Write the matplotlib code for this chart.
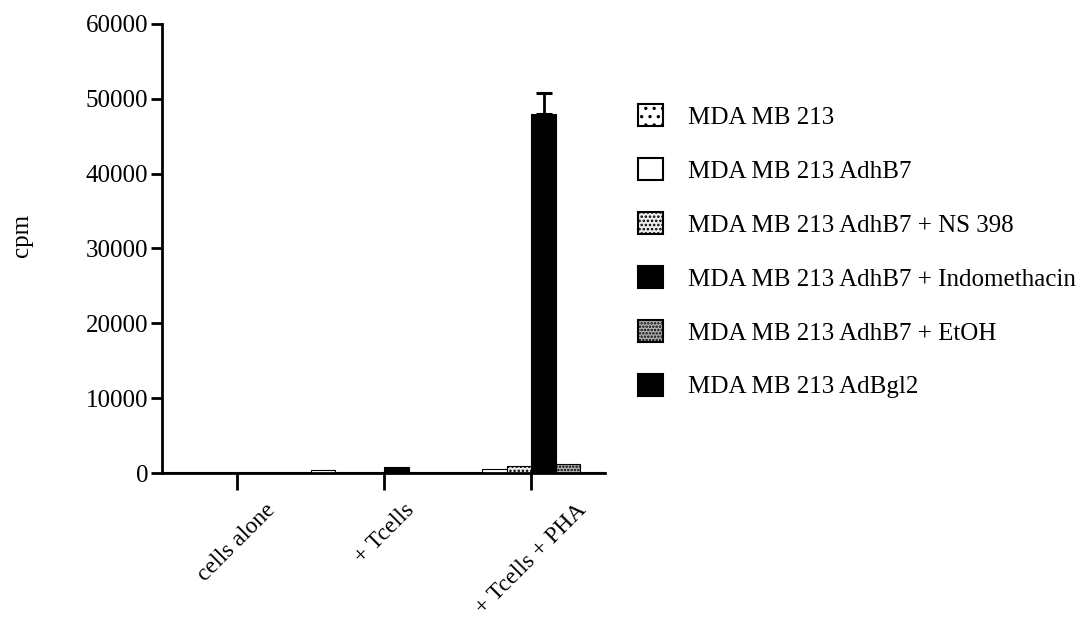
import matplotlib
matplotlib.use("Agg")
import matplotlib.pyplot as plt
from matplotlib.patches import Patch
import numpy as np

plt.rcParams['font.family'] = ['Liberation Serif', 'DejaVu Serif']
plt.rcParams['hatch.linewidth'] = 1.2

categories = ["cells alone", "+ Tcells", "+ Tcells + PHA"]
series_names = ["MDA MB 213", "MDA MB 213 AdhB7", "MDA MB 213 AdhB7 + NS 398",
                "MDA MB 213 AdhB7 + Indomethacin", "MDA MB 213 AdhB7 + EtOH",
                "MDA MB 213 AdBgl2"]
values = [
    [150, 450, 200],      # MDA MB 213
    [100, 150, 550],      # AdhB7
    [100, 150, 950],      # AdhB7 + NS 398
    [100, 750, 48000],    # AdhB7 + Indomethacin
    [100, 150, 1150],     # AdhB7 + EtOH
    [100, 150, 150],      # AdBgl2
]
errors = [
    [0, 0, 0],
    [0, 0, 0],
    [0, 0, 0],
    [0, 0, 2800],
    [0, 0, 0],
    [0, 0, 0],
]
yticks = [0, 10000, 20000, 30000, 40000, 50000, 60000]

facecolors = ['white', 'white', '#ececec', 'black', '#b4b4b4', 'black']
hatches = ['..', None, '....', None, '.....', None]

fig = plt.figure(figsize=(10.92, 6.25), dpi=100)
ax = fig.add_axes([0.1484, 0.2432, 0.4056, 0.7184])

n = len(series_names)
w = 1.0 / n
x = np.arange(len(categories))
for i in range(n):
    off = (i - (n - 1) / 2) * w
    ax.bar(x + off, values[i], width=w, color=facecolors[i], edgecolor='black',
           linewidth=0.8, hatch=hatches[i], zorder=2)
    errs = np.array(errors[i])
    mask = errs > 0
    if mask.any():
        ax.errorbar((x + off)[mask], np.array(values[i])[mask],
                    yerr=[np.zeros(mask.sum()), errs[mask]], fmt='none',
                    ecolor='black', elinewidth=2, capsize=6, capthick=2.2, zorder=3)

ax.set_xlim(-0.51, 2.50)
ax.set_ylim(0, 60000)
ax.set_yticks(yticks)
ax.set_yticklabels([str(t) for t in yticks], fontsize=18)
ax.set_xticks(x)
ax.set_xticklabels(categories, rotation=45, ha='center', va='top', fontsize=17)
ax.tick_params(axis='y', length=8, width=2, direction='out', pad=2)
ax.tick_params(axis='x', length=12, width=2, direction='out', pad=7)
for s in ['top', 'right']:
    ax.spines[s].set_visible(False)
for s in ['left', 'bottom']:
    ax.spines[s].set_linewidth(2)
ax.set_ylabel('cpm', fontsize=18)
ax.yaxis.set_label_coords(-0.292, 0.53)

handles = [Patch(facecolor=facecolors[i], edgecolor='black', hatch=hatches[i],
                 linewidth=1.5) for i in range(n)]
fig.legend(handles, series_names, loc='upper left', bbox_to_anchor=(0.575, 0.85),
           frameon=False, fontsize=18, handlelength=1.0, handleheight=1.0,
           labelspacing=1.17, handletextpad=1.0, borderaxespad=0)

fig.savefig('out.png', dpi=100, facecolor='white')
